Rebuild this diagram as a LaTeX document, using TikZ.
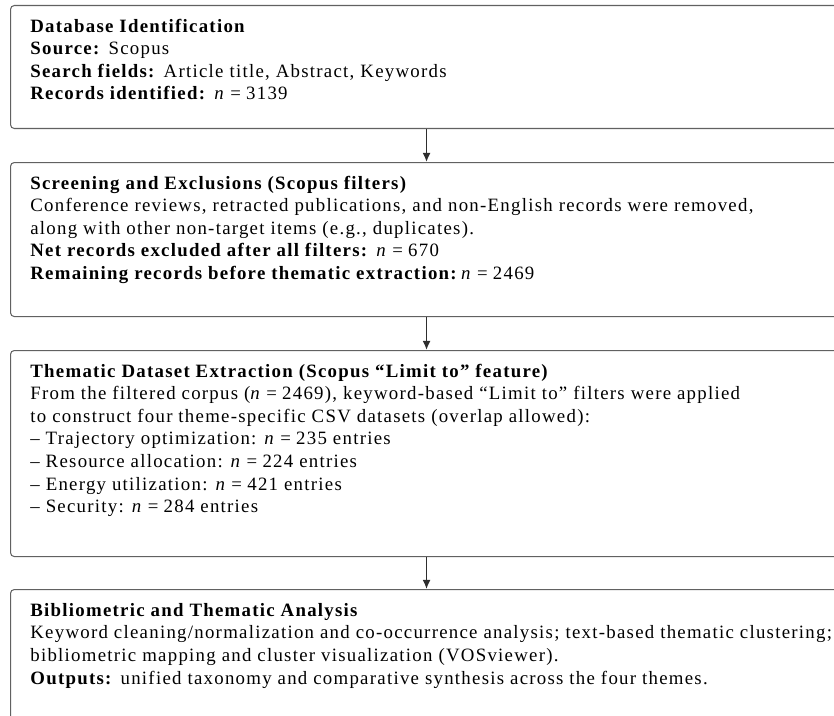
\documentclass[tikz,border=0pt]{standalone}
\usepackage{fontspec}
\setmainfont{Liberation Serif}[LetterSpace=6.7]
\usetikzlibrary{arrows.meta}
% italic n with math-like spacing around the equals sign
\newcommand{\nval}[1]{\textit{n}\kern0.28em=\kern0.28em#1}
\begin{document}
\begin{tikzpicture}[x=0.531pt,y=-0.531pt,
  stage/.style={draw=black!62, line width=0.55pt, rounded corners=2pt,
    minimum width=441.8pt, inner sep=0pt, anchor=north west},
  body/.style={anchor=north west, inner sep=0pt, align=left,
    font=\fontsize{10pt}{12pt}\selectfont},
  flow/.style={draw=black!82, line width=0.75pt, -{Latex[length=4.8pt,width=4.2pt]}}]
\useasboundingbox (0,0) rectangle (834,715);
\clip (0,0) rectangle (834,715);

% stage frames
\node[stage, minimum height=65.3pt]  (b1) at (10,5)   {};
\node[stage, minimum height=81.8pt]  (b2) at (10,162) {};
\node[stage, minimum height=109.4pt] (b3) at (10,350) {};
\node[stage, minimum height=90pt]    (b4) at (10,589) {};

% stage texts
\node[body] (t1) at (30,16) {\strut\textbf{Database Identification}\\
  \textbf{Source:} Scopus\\
  \textbf{Search fields:} Article title, Abstract, Keywords\\
  \textbf{Records identified:} \nval{3139}};

\node[body] (t2) at (30,173) {\strut\textbf{Screening and Exclusions (Scopus filters)}\\
  Conference reviews, retracted publications, and non-English records were removed,\\
  along with other non-target items (e.g., duplicates).\\
  \textbf{Net records excluded after all filters:} \nval{670}\\
  \textbf{Remaining records before thematic extraction:}\,\nval{2469}};

\node[body] (t3) at (30,361) {\strut\textbf{Thematic Dataset Extraction (Scopus ``Limit to'' feature)}\\
  From the filtered corpus (\nval{2469}), keyword-based ``Limit to'' filters were applied\\
  to construct four theme-specific CSV datasets (overlap allowed):\\
  -- Trajectory optimization: \nval{235} entries\\
  -- Resource allocation: \nval{224} entries\\
  -- Energy utilization: \nval{421} entries\\
  -- Security: \nval{284} entries};

\node[body] (t4) at (30,600) {\strut\textbf{Bibliometric and Thematic Analysis}\\
  Keyword cleaning/normalization and co-occurrence analysis; text-based thematic clustering;\\
  bibliometric mapping and cluster visualization (VOSviewer).\\
  \textbf{Outputs:} unified taxonomy and comparative synthesis across the four themes.};

% flow between stages
\draw[flow] (b1.south) -- (b2.north);
\draw[flow] (b2.south) -- (b3.north);
\draw[flow] (b3.south) -- (b4.north);
\end{tikzpicture}
\end{document}
